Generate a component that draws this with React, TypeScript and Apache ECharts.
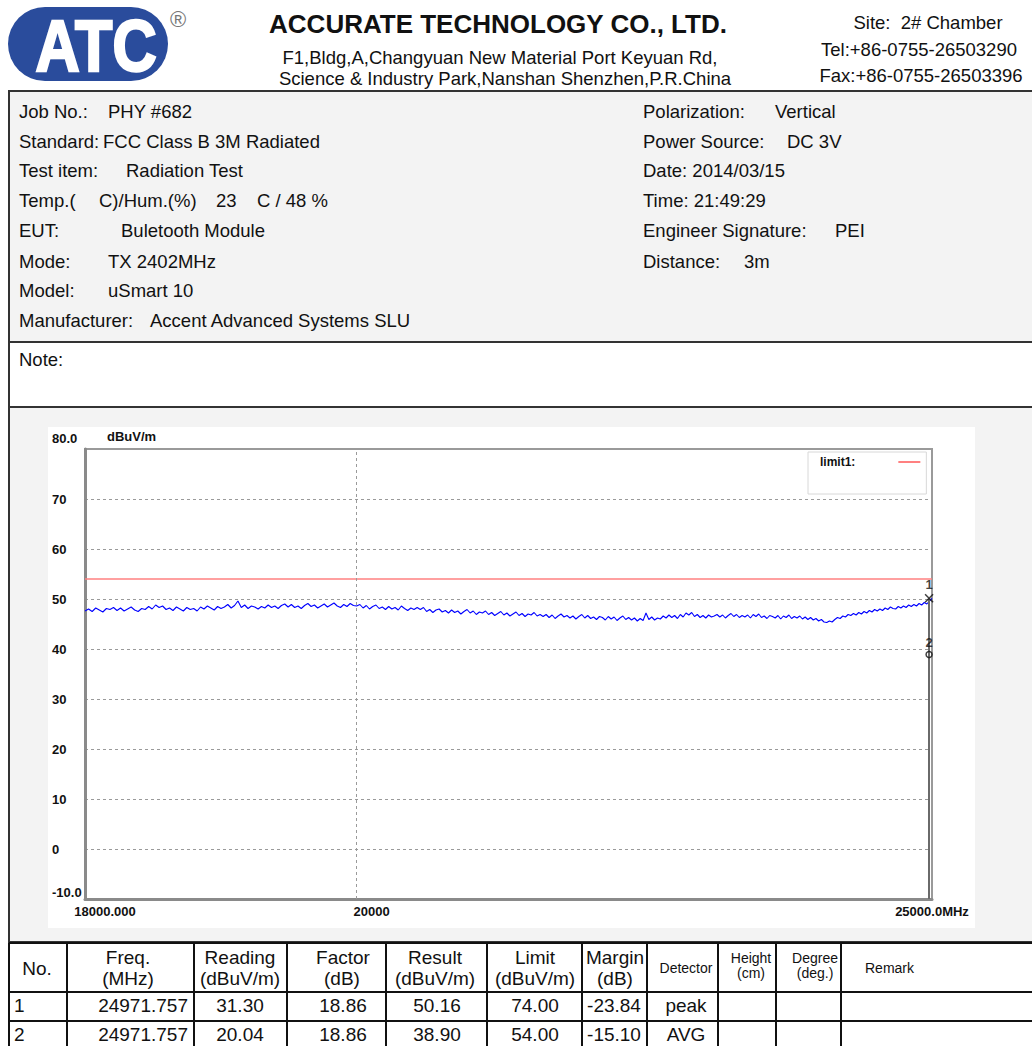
import React, { useEffect, useRef } from 'react';
import * as echarts from 'echarts';

const FONT = '"Liberation Sans", Arial, Helvetica, sans-serif';

// ---------- data ----------
const TRACE_START_MHZ = 18000;
const TRACE_STEP_MHZ = 25;
const TRACE_LEVELS = [
  47.6, 48.0, 47.5, 48.2, 47.8, 47.4, 48.1, 47.9, 48.3, 47.7,
  48.2, 47.6, 48.0, 48.4, 47.8, 47.5, 48.1, 47.9, 48.5, 48.0,
  48.8, 48.3, 48.6, 47.9, 48.2, 47.7, 48.4, 48.0, 47.6, 48.3,
  47.9, 48.1, 47.6, 48.4, 48.0, 48.6, 48.2, 47.8, 48.5, 48.1,
  48.4, 48.9, 48.2, 48.7, 49.6, 48.3, 48.8, 48.1, 48.6, 48.4,
  48.0, 48.5, 48.2, 48.8, 48.3, 48.6, 48.1, 48.7, 49.0, 48.4,
  48.9, 48.3, 48.6, 48.1, 48.7, 49.1, 48.5, 48.8, 48.2, 48.6,
  49.0, 48.4, 48.8, 49.2, 48.6, 48.3, 48.9, 48.5, 49.1, 48.7,
  48.6, 48.9, 48.2, 48.7, 48.0, 48.5, 48.8, 48.1, 48.4, 47.9,
  48.5, 48.0, 48.3, 47.8, 48.6, 48.1, 47.7, 48.2, 47.9, 48.3,
  47.9, 48.3, 47.5, 47.9, 47.3, 47.8, 48.0, 47.4, 47.7, 47.2,
  47.8, 47.3, 47.6, 47.0, 47.5, 47.9, 47.2, 47.6, 46.9, 47.4,
  47.2, 47.6, 46.9, 47.3, 46.7, 47.1, 47.5, 46.8, 47.2, 46.6,
  47.0, 47.4, 46.7, 47.1, 46.5, 47.0, 46.8, 47.3, 46.6, 46.9,
  46.5, 46.9, 46.3, 46.8, 46.1, 46.6, 47.0, 46.4, 46.7, 46.2,
  46.6, 46.0, 46.5, 46.9, 46.2, 46.7, 46.1, 46.4, 45.9, 46.5,
  46.3, 45.8, 46.5, 46.0, 46.4, 45.7, 46.2, 46.6, 45.9, 46.3,
  45.8, 46.2, 45.6, 46.1, 45.7, 47.2, 45.9, 46.4, 45.8, 46.2,
  46.0, 46.6, 46.2, 46.8, 46.3, 46.7, 46.1, 46.9, 46.4, 47.2,
  46.8, 47.3, 46.5, 46.9, 46.3, 46.7, 46.2, 46.8, 46.4, 46.6,
  46.9, 46.4, 46.8, 46.2, 46.7, 47.1, 46.5, 46.9, 46.3, 46.7,
  46.4, 46.8, 46.2, 46.9, 46.5, 47.0, 46.3, 46.6, 46.1, 46.7,
  46.5, 46.2, 46.7, 46.0, 46.6, 46.3, 46.8, 46.1, 46.5, 46.2,
  46.6, 46.0, 46.4, 45.9, 46.3, 45.8, 46.1, 45.6, 45.9, 45.4,
  45.3, 45.6, 45.4, 45.9, 46.3, 46.1, 46.6, 46.4, 46.9, 46.7,
  47.1, 46.8, 47.3, 47.0, 47.5, 47.2, 47.7, 47.4, 47.9, 47.6,
  48.0, 47.7, 48.2, 47.9, 48.4, 48.1, 48.0, 48.5, 48.2, 48.6,
  48.3, 48.8, 48.5, 48.9, 48.6, 49.1, 48.8, 49.3, 49.0, 49.6,
  50.1,
];

const LIMIT_NAME = 'limit1:';
const LIMIT_FREQS = [18000, 25000];
const LIMIT_LEVELS = [54, 54];

const X_MIN = 18000;
const X_MAX = 25000;
const X_TICKS = [18000, 20000, 25000];
const X_TICK_LABELS = ['18000.000', '20000', '25000.0MHz'];
const Y_MIN = -10;
const Y_MAX = 80;
const Y_STEP = 10;
const Y_UNIT = 'dBuV/m';

const ROW_NO = ['1', '2'];
const ROW_FREQ = ['24971.757', '24971.757'];
const ROW_READING = ['31.30', '20.04'];
const ROW_FACTOR = ['18.86', '18.86'];
const ROW_RESULT = ['50.16', '38.90'];
const ROW_LIMIT = ['74.00', '54.00'];
const ROW_MARGIN = ['-23.84', '-15.10'];
const ROW_DETECTOR = ['peak', 'AVG'];

const INFO_LEFT: [string, string, number][] = [
  ['Job No.:', 'PHY #682', 108],
  ['Standard:', 'FCC Class B 3M Radiated', 103],
  ['Test item:', 'Radiation Test', 126],
  ['Temp.(', '', 0],
  ['EUT:', 'Buletooth Module', 121],
  ['Mode:', 'TX 2402MHz', 108],
  ['Model:', 'uSmart 10', 108],
  ['Manufacturer:', 'Accent Advanced Systems SLU', 150],
];
const INFO_RIGHT: [string, string, number][] = [
  ['Polarization:', 'Vertical', 775],
  ['Power Source:', 'DC 3V', 787],
  ['Date: 2014/03/15', '', 0],
  ['Time: 21:49:29', '', 0],
  ['Engineer Signature:', 'PEI', 835],
  ['Distance:', '3m', 744],
];

// ---------- helpers ----------
const rect = (x: number, y: number, w: number, h: number, fill: string, z: number, stroke?: string, lw?: number, r?: number) => ({
  type: 'rect', z, silent: true,
  shape: { x, y, width: w, height: h, r: r || 0 },
  style: { fill, stroke: stroke || 'none', lineWidth: lw || 0 },
});
const line = (x1: number, y1: number, x2: number, y2: number, stroke: string, lw: number, z = 5) => ({
  type: 'line', z, silent: true,
  shape: { x1, y1, x2, y2 },
  style: { stroke, lineWidth: lw },
});
const text = (x: number, y: number, t: string, size: number, align = 'left', weight = 'normal', fill = '#111') => ({
  type: 'text', z: 20, silent: true, x, y,
  style: { text: t, font: `${weight} ${size}px ${FONT}`, fill, align, verticalAlign: 'middle' },
});

function buildGraphics() {
  const g: any[] = [];
  g.push(rect(0, 0, 1032, 1046, '#ffffff', -30));
  // header logo
  g.push(rect(8, 7, 160, 74, '#2a4c9c', -20, undefined, 0, 37));
  g.push({
    type: 'text', z: 20, silent: true, x: 96, y: 46, scaleX: 0.85,
    style: {
      text: 'ATC', font: `bold 72px ${FONT}`, fill: '#ffffff', stroke: '#ffffff', lineWidth: 2.5,
      align: 'center', verticalAlign: 'middle',
    },
  });
  g.push(text(178, 19, '®', 22, 'center', 'normal', '#777'));
  g.push(text(498, 24, 'ACCURATE TECHNOLOGY CO., LTD.', 26, 'center', 'bold', '#111'));
  g.push(text(500, 57, 'F1,Bldg,A,Changyuan New Material Port Keyuan Rd,', 18.5, 'center'));
  g.push(text(505, 78, 'Science & Industry Park,Nanshan Shenzhen,P.R.China', 18.5, 'center'));
  g.push(text(928, 22, 'Site:  2# Chamber', 18.5, 'center'));
  g.push(text(919, 49, 'Tel:+86-0755-26503290', 18.5, 'center'));
  g.push(text(921, 75, 'Fax:+86-0755-26503396', 18.5, 'center'));

  // info box
  g.push(rect(9, 91, 1040, 251, '#f3f3f3', -20, '#333', 2));
  g.push(rect(9, 342, 1040, 65, '#ffffff', -20, '#333', 2));
  g.push(rect(9, 407, 1040, 535, '#f3f3f3', -20, '#333', 2));
  g.push(rect(48, 427, 927, 501, '#ffffff', -15));
  const rowsY = [111, 141, 170, 200, 230, 261, 290, 320];
  INFO_LEFT.forEach(([lab, val, vx], i) => {
    if (lab === 'Temp.(') {
      g.push(text(19, rowsY[i], 'Temp.(', 18.5));
      g.push(text(99, rowsY[i], 'C)/Hum.(%)', 18.5));
      g.push(text(216, rowsY[i], '23', 18.5));
      g.push(text(257, rowsY[i], 'C / 48 %', 18.5));
      return;
    }
    g.push(text(19, rowsY[i], lab, 18.5));
    if (val) g.push(text(vx, rowsY[i], val, 18.5));
  });
  INFO_RIGHT.forEach(([lab, val, vx], i) => {
    g.push(text(643, rowsY[i], lab, 18.5));
    if (val) g.push(text(vx, rowsY[i], val, 18.5));
  });
  g.push(text(19, 359, 'Note:', 18.5));

  // table
  g.push(rect(9, 942, 1040, 110, '#ffffff', -20));
  [943, 992, 1021].forEach((y) => g.push(line(9, y, 1032, y, '#111', 2)));
  [9, 67, 194, 287, 386, 487, 582, 647, 718, 776, 841].forEach((x) => g.push(line(x, 943, x, 1046, '#111', 2)));
  const H1 = 957, H2 = 978, HM = 968;
  g.push(text(37, HM, 'No.', 19, 'center'));
  g.push(text(128, H1, 'Freq.', 19, 'center'));
  g.push(text(128, H2, '(MHz)', 19, 'center'));
  g.push(text(240, H1, 'Reading', 19, 'center'));
  g.push(text(240, H2, '(dBuV/m)', 19, 'center'));
  g.push(text(343, H1, 'Factor', 19, 'center'));
  g.push(text(342, H2, '(dB)', 19, 'center'));
  g.push(text(435, H1, 'Result', 19, 'center'));
  g.push(text(435, H2, '(dBuV/m)', 19, 'center'));
  g.push(text(535, H1, 'Limit', 19, 'center'));
  g.push(text(535, H2, '(dBuV/m)', 19, 'center'));
  g.push(text(615, H1, 'Margin', 19, 'center'));
  g.push(text(615, H2, '(dB)', 19, 'center'));
  g.push(text(686, HM, 'Detector', 14, 'center'));
  g.push(text(751, 958, 'Height', 14, 'center'));
  g.push(text(751, 973, '(cm)', 14, 'center'));
  g.push(text(815, 958, 'Degree', 14, 'center'));
  g.push(text(815, 973, '(deg.)', 14, 'center'));
  g.push(text(865, HM, 'Remark', 14, 'left'));
  const rowY = [1005, 1034];
  ROW_NO.forEach((no, i) => {
    const y = rowY[i];
    g.push(text(14, y, no, 19));
    g.push(text(188, y, ROW_FREQ[i], 19, 'right'));
    g.push(text(240, y, ROW_READING[i], 19, 'center'));
    g.push(text(343, y, ROW_FACTOR[i], 19, 'center'));
    g.push(text(437, y, ROW_RESULT[i], 19, 'center'));
    g.push(text(535, y, ROW_LIMIT[i], 19, 'center'));
    g.push(text(614, y, ROW_MARGIN[i], 19, 'center'));
    g.push(text(686, y, ROW_DETECTOR[i], 19, 'center'));
  });
  return g;
}

export default function App() {
  const ref = useRef<HTMLDivElement>(null);
  useEffect(() => {
    if (!ref.current) return;
    const chart = echarts.init(ref.current, undefined, { renderer: 'svg' });
    const trace = TRACE_LEVELS.map((v, i) => [TRACE_START_MHZ + i * TRACE_STEP_MHZ, v]);
    const limit = LIMIT_FREQS.map((f, i) => [f, LIMIT_LEVELS[i]]);
    const markers = ROW_NO.map((no, i) => ({
      value: [parseFloat(ROW_FREQ[i]), parseFloat(ROW_RESULT[i])],
      symbol: i === 0 ? 'path://M0,0L10,10M10,0L0,10' : 'circle',
      symbolSize: i === 0 ? 8 : 6,
      label: { formatter: no },
    }));
    const chartFont = { fontFamily: FONT, fontWeight: 'bold' as const, fontSize: 13, color: '#111' };
    chart.setOption({
      animation: false,
      textStyle: { fontFamily: FONT },
      graphic: { elements: buildGraphics() },
      grid: {
        left: 85, top: 449, width: 847, height: 450,
        show: true, borderColor: '#9a9a9a', borderWidth: 2, backgroundColor: 'transparent',
      },
      legend: {
        left: 808, top: 452,
        data: [LIMIT_NAME],
        align: 'right',
        icon: 'rect', itemWidth: 22, itemHeight: 2,
        padding: [4, 6, 26, 12],
        borderColor: '#d8d8d8', borderWidth: 1, backgroundColor: '#ffffff',
        textStyle: { padding: [0, 38, 0, 0], fontFamily: FONT, fontWeight: 'bold', fontSize: 12, color: '#111' },
        selectedMode: false,
      },
      xAxis: {
        type: 'log', min: X_MIN, max: X_MAX, logBase: 10,
        axisLine: { show: true, onZero: false, lineStyle: { color: '#8a8a8a', width: 3 } },
        axisTick: { show: false },
        splitLine: { show: false },
        axisLabel: {
          customValues: X_TICKS,
          margin: 6,
          ...chartFont,
          formatter: (v: number) => {
            const i = X_TICKS.indexOf(Math.round(v));
            return i < 0 ? '' : `{t${i}|${X_TICK_LABELS[i]}}`;
          },
          rich: {
            t0: { ...chartFont, padding: [0, 0, 0, 40] },
            t1: { ...chartFont, padding: [0, 0, 0, 30] },
            t2: { ...chartFont, padding: [0, 0, 0, 0] },
          },
        },
      },
      yAxis: {
        type: 'value', min: Y_MIN, max: Y_MAX, interval: Y_STEP,
        name: Y_UNIT, nameLocation: 'end', nameGap: 6,
        nameTextStyle: { ...chartFont, align: 'left', padding: [0, 0, 0, 22] },
        axisLine: { show: true, onZero: false, lineStyle: { color: '#8a8a8a', width: 3 } },
        axisTick: { show: false },
        splitLine: { show: true, lineStyle: { color: '#9a9a9a', type: [3, 3], width: 1 } },
        axisLabel: {
          align: 'left', margin: 33, ...chartFont,
          formatter: (v: number) => (v === Y_MAX ? `{hi|${v.toFixed(1)}}` : v === Y_MIN ? `{lo|${v.toFixed(1)}}` : String(v)),
          rich: {
            hi: { ...chartFont, padding: [0, 0, 22, 0] },
            lo: { ...chartFont, padding: [0, 0, 14, 0] },
          },
        },
      },
      series: [
        {
          name: 'trace', type: 'line', data: trace, symbol: 'none',
          lineStyle: { color: '#0000ff', width: 1.1 }, itemStyle: { color: '#0000ff' },
          z: 3,
          markLine: {
            silent: true, symbol: ['none', 'none'], label: { show: false },
            lineStyle: { color: '#9a9a9a', type: [3, 3], width: 1 },
            data: [{ xAxis: X_TICKS[1] }],
          },
        },
        {
          name: LIMIT_NAME, type: 'line', data: limit, symbol: 'none',
          lineStyle: { color: '#ff8080', width: 1.5 }, itemStyle: { color: '#ff8080' }, z: 4,
        },
        {
          name: 'markers', type: 'scatter', data: markers, z: 6,
          itemStyle: { color: 'rgba(0,0,0,0)', borderColor: '#111', borderWidth: 1.5 },
          label: { show: true, position: 'top', distance: 2, ...chartFont },
          markLine: {
            silent: true, symbol: ['none', 'none'], label: { show: false },
            lineStyle: { color: '#6a6a6a', type: 'solid', width: 2 },
            data: [[
              { coord: [parseFloat(ROW_FREQ[0]), parseFloat(ROW_RESULT[0])] },
              { coord: [parseFloat(ROW_FREQ[0]), Y_MIN] },
            ]],
          },
        },
      ],
    });
    return () => chart.dispose();
  }, []);
  return <div ref={ref} style={{ position: 'absolute', left: 0, top: 0, width: 1032, height: 1046 }} />;
}
